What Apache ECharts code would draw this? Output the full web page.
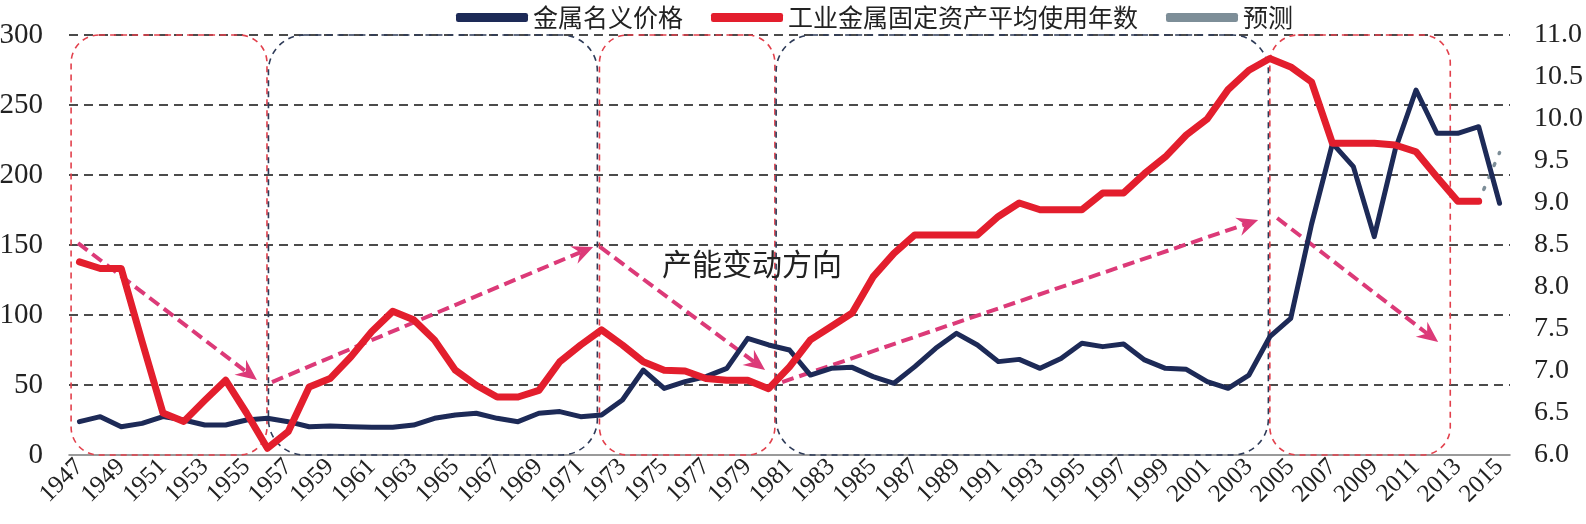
<!DOCTYPE html>
<html><head><meta charset="utf-8">
<script src="https://cdn.jsdelivr.net/npm/echarts@6/dist/echarts.min.js"></script>
<style>html,body{margin:0;padding:0;background:#fff}#c{width:1586px;height:524px}</style>
</head><body><div id="c"></div>
<script>
const years = ['1947','1948','1949','1950','1951','1952','1953','1954','1955','1956','1957','1958','1959','1960','1961','1962','1963','1964','1965','1966','1967','1968','1969','1970','1971','1972','1973','1974','1975','1976','1977','1978','1979','1980','1981','1982','1983','1984','1985','1986','1987','1988','1989','1990','1991','1992','1993','1994','1995','1996','1997','1998','1999','2000','2001','2002','2003','2004','2005','2006','2007','2008','2009','2010','2011','2012','2013','2014','2015'];

const metalPrice = [23.8,27.4,20.2,22.6,27.4,25.0,21.4,21.4,25.0,26.2,
  23.8,20.2,20.7,20.2,19.8,19.8,21.4,26.2,28.6,29.8,
  26.2,23.8,29.8,31.0,27.4,28.6,39.3,60.7,47.6,52.4,
  56.0,61.9,83.3,78.6,75.0,57.1,61.9,62.6,56.0,51.2,
  63.1,76.2,86.9,78.6,66.7,68.3,61.9,69.0,79.8,77.4,
  79.3,67.9,61.9,61.2,52.4,47.6,57.1,84.5,97.6,165.0,
  222.6,206.0,156.0,218.0,260.7,229.8,229.8,234.5,179.8];

const assetAge = [8.30,8.22,8.22,7.35,6.50,6.40,6.65,6.89,6.50,6.08,
  6.28,6.81,6.91,7.17,7.47,7.71,7.61,7.37,7.01,6.83,
  6.69,6.69,6.77,7.11,7.31,7.49,7.31,7.11,7.01,7.00,
  6.91,6.89,6.89,6.79,7.05,7.37,7.53,7.69,8.12,8.40,
  8.62,8.62,8.62,8.62,8.84,9.00,8.92,8.92,8.92,9.12,
  9.12,9.35,9.55,9.81,10.00,10.35,10.58,10.72,10.62,10.44,
  9.71,9.71,9.71,9.69,9.61,9.31,9.02,9.02,null];

const forecast = years.map(function(y){ return y === '2014' ? 9.02 : (y === '2015' ? 9.60 : null); });

const seriesNames = ['金属名义价格','工业金属固定资产平均使用年数','预测'];

// annotation boxes: [yearFrom, yearTo, valueBottom, valueTop, kind(0 red,1 blue)]
const boxes = [
  [1946.6, 1955.98, 0, 300, 0],
  [1956.05, 1971.8, 0, 300, 1],
  [1971.9, 1980.3, 0, 300, 0],
  [1980.36, 2003.93, 0, 300, 1],
  [2004.0, 2012.64, 0, 300, 0]
];
// capacity direction arrows: [yearFrom, valueFrom, yearTo, valueTo]
const arrows = [
  [1946.93, 151.4, 1955.5, 53.6],
  [1956.22, 52.1, 1971.6, 148.6],
  [1971.93, 148.6, 1979.83, 60.7],
  [1980.65, 52.1, 2003.44, 167.9],
  [2004.35, 169.3, 2012.06, 80.7]
];
const noteText = '产能变动方向';
const notePos = [[1974.9, 137]];

const chart = echarts.init(document.getElementById('c'));
const serif = 'Liberation Serif';
const cjk = 'Noto Sans CJK SC';

chart.setOption({
  animation: false,
  backgroundColor: '#fff',
  legend: {
    data: seriesNames,
    left: 451, top: 0,
    icon: 'roundRect',
    itemWidth: 72, itemHeight: 9, itemGap: 28,
    textStyle: { fontSize: 25, fontFamily: cjk, color: '#222' }
  },
  grid: { left: 69, right: 76, top: 35, bottom: 69, outerBoundsMode: 'none', containLabel: false },
  xAxis: [{
    type: 'category', data: years, boundaryGap: true,
    axisLine: { show: true, lineStyle: { color: '#7a7a7a', width: 1.5 } },
    axisTick: { show: false },
    splitLine: { show: false },
    axisLabel: { interval: 1, rotate: 45, fontSize: 25, fontFamily: serif, color: '#222', margin: 8 }
  }, {
    type: 'value', min: 1946.5, max: 2015.5, show: false, position: 'top'
  }],
  yAxis: [{
    type: 'value', min: 0, max: 300, interval: 50, position: 'left',
    axisLine: { show: false }, axisTick: { show: false },
    axisLabel: { fontSize: 29, fontFamily: serif, color: '#222', margin: 26 },
    splitLine: { show: true, showMinLine: false, lineStyle: { color: '#111', type: [9, 6], width: 1.6 } }
  }, {
    type: 'value', min: 6, max: 11, interval: 0.5, position: 'right',
    axisLine: { show: false }, axisTick: { show: false },
    axisLabel: { fontSize: 28, fontFamily: serif, color: '#222', margin: 24,
      formatter: function (v) { return v.toFixed(1); } },
    splitLine: { show: false }
  }],
  series: [
    {
      type: 'custom', name: 'boxes', xAxisIndex: 1, yAxisIndex: 0, silent: true, z: 1,
      data: boxes,
      renderItem: function (params, api) {
        const p0 = api.coord([api.value(0), api.value(3)]);
        const p1 = api.coord([api.value(1), api.value(2)]);
        const red = api.value(4) === 0;
        return {
          type: 'rect',
          shape: { x: p0[0], y: p0[1], width: p1[0] - p0[0], height: p1[1] - p0[1], r: red ? 28 : 36 },
          style: { fill: 'rgba(0,0,0,0)', stroke: red ? '#e2404c' : '#2e3b58', lineWidth: 1.6, lineDash: [6, 5] }
        };
      }
    },
    {
      type: 'custom', name: 'arrows', xAxisIndex: 1, yAxisIndex: 0, silent: true, z: 2,
      data: arrows,
      renderItem: function (params, api) {
        const a = api.coord([api.value(0), api.value(1)]);
        const b = api.coord([api.value(2), api.value(3)]);
        const dx = b[0] - a[0], dy = b[1] - a[1];
        const L = Math.sqrt(dx * dx + dy * dy);
        const ux = dx / L, uy = dy / L, nx = -uy, ny = ux;
        const hl = 21, hw = 9.5, notch = 14;
        const col = '#dc3a78';
        return {
          type: 'group',
          children: [{
            type: 'line',
            shape: { x1: a[0], y1: a[1], x2: b[0] - ux * notch, y2: b[1] - uy * notch },
            style: { stroke: col, lineWidth: 4, lineDash: [12, 6] }
          }, {
            type: 'polygon',
            shape: { points: [
              [b[0], b[1]],
              [b[0] - ux * hl + nx * hw, b[1] - uy * hl + ny * hw],
              [b[0] - ux * notch, b[1] - uy * notch],
              [b[0] - ux * hl - nx * hw, b[1] - uy * hl - ny * hw]
            ] },
            style: { fill: col }
          }]
        };
      }
    },
    {
      type: 'custom', name: 'note', xAxisIndex: 1, yAxisIndex: 0, silent: true, z: 3,
      data: notePos,
      renderItem: function (params, api) {
        const p = api.coord([api.value(0), api.value(1)]);
        return {
          type: 'text', x: p[0], y: p[1],
          style: { text: noteText, fontSize: 30, fontFamily: cjk, fill: '#222', align: 'left', verticalAlign: 'middle' }
        };
      }
    },
    {
      name: seriesNames[0], type: 'line', xAxisIndex: 0, yAxisIndex: 0, data: metalPrice,
      color: '#1d2a57', showSymbol: false, symbol: 'none', z: 5,
      lineStyle: { color: '#1d2a57', width: 5, join: 'round', cap: 'round' }
    },
    {
      name: seriesNames[1], type: 'line', xAxisIndex: 0, yAxisIndex: 1, data: assetAge,
      color: '#e31e2d', showSymbol: false, symbol: 'none', z: 6,
      lineStyle: { color: '#e31e2d', width: 7, join: 'round', cap: 'round' }
    },
    {
      name: seriesNames[2], type: 'line', xAxisIndex: 0, yAxisIndex: 1, data: forecast,
      color: '#7d8e98', showSymbol: false, symbol: 'none', z: 4,
      lineStyle: { color: '#7d8e98', width: 3.5, type: [2, 11], cap: 'round' }
    }
  ]
});
</script></body></html>
